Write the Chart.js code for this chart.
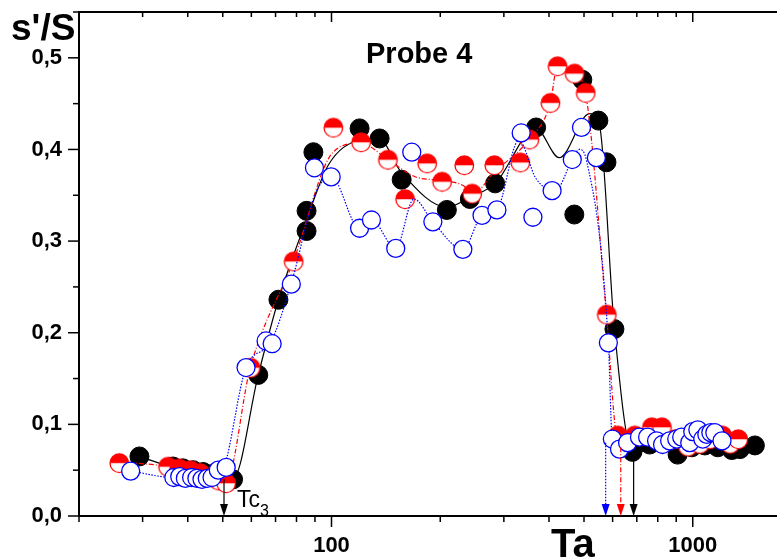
<!DOCTYPE html>
<html>
<head>
<meta charset="utf-8">
<script src="https://cdn.jsdelivr.net/npm/chart.js@4.4.1/dist/chart.umd.min.js"></script>
<style>
  html, body { margin: 0; padding: 0; background: #fff; overflow: hidden; width: 777px; height: 558px; }
  canvas { display: block; }
</style>
</head>
<body>
<canvas id="chart" width="812" height="558"></canvas>
<script>
// measured points (Ta, s'/S)
const blackX = [29.4, 36.4, 38.8, 41.4, 44.1, 47, 50.1, 53.4, 62.7, 71.3, 85.3, 85.3, 89.1, 119.6, 135.9, 156.4, 208.6, 241.5, 283.7, 368.5, 470, 494.7, 548, 577, 607, 681, 760, 836, 908, 994, 1080, 1173, 1283, 1351, 1486];
const blackY = [0.065, 0.054, 0.052, 0.050, 0.048, 0.046, 0.044, 0.040, 0.154, 0.236, 0.311, 0.333, 0.397, 0.423, 0.412, 0.367, 0.334, 0.346, 0.363, 0.424, 0.329, 0.476, 0.4315, 0.386, 0.204, 0.070, 0.078, 0.080, 0.067, 0.075, 0.077, 0.075, 0.072, 0.073, 0.077];

const redX = [25.8, 35.2, 37.8, 40.6, 43.2, 46.6, 48.6, 51, 59.6, 78.4, 101, 120.5, 143, 159.5, 183.6, 202, 232.6, 244.7, 281.8, 332.7, 352.5, 403, 421.7, 470, 504.5, 577, 619, 690, 769, 820, 891, 968, 1045, 1114, 1205, 1267, 1334];
const redY = [0.058, 0.054, 0.052, 0.050, 0.047, 0.043, 0.039, 0.036, 0.162, 0.278, 0.424, 0.408, 0.389, 0.346, 0.385, 0.365, 0.383, 0.352, 0.383, 0.386, 0.411, 0.451, 0.491, 0.483, 0.462, 0.220, 0.088, 0.088, 0.097, 0.097, 0.084, 0.076, 0.079, 0.084, 0.088, 0.079, 0.084];

const blueX = [27.8, 36.6, 38.0, 39.4, 41.0, 42.4, 43.8, 45.3, 46.7, 48.6, 51.1, 58, 65.9, 68.5, 77.4, 89.7, 99.8, 119.6, 129, 150.6, 166.8, 190.8, 231, 261, 287, 335, 361, 408, 464, 492, 541, 584, 599, 627, 660, 712, 750, 794, 825, 863, 903, 932, 981, 1000, 1033, 1066, 1094, 1122, 1151, 1205];
const blueY = [0.049, 0.042, 0.043, 0.041, 0.042, 0.041, 0.040, 0.041, 0.042, 0.050, 0.053, 0.162, 0.191, 0.188, 0.253, 0.380, 0.370, 0.314, 0.323, 0.292, 0.397, 0.321, 0.291, 0.328, 0.334, 0.418, 0.326, 0.355, 0.389, 0.424, 0.391, 0.189, 0.084, 0.073, 0.080, 0.086, 0.086, 0.082, 0.078, 0.082, 0.084, 0.086, 0.080, 0.092, 0.094, 0.084, 0.089, 0.091, 0.091, 0.082];

// smoothed guide curves
const blackFitX = [29.4, 35.2, 42.7, 53.4, 62.7, 71.3, 85.3, 98, 119, 135, 156, 209, 242, 284, 368, 427, 518, 552, 607, 681, 921, 1189, 1486];
const blackFitY = [0.065, 0.055, 0.049, 0.041, 0.154, 0.236, 0.323, 0.383, 0.41, 0.412, 0.375, 0.337, 0.348, 0.363, 0.423, 0.391, 0.439, 0.426, 0.204, 0.070, 0.075, 0.077, 0.077];
const redFitX = [25.8, 35.2, 42.7, 51, 59.6, 78.4, 101, 120.5, 143, 171, 202, 232.6, 244.7, 281.8, 352.5, 403, 421.7, 470, 504.5, 577, 619, 809, 1189, 1393];
const redFitY = [0.059, 0.054, 0.046, 0.037, 0.162, 0.278, 0.397, 0.407, 0.389, 0.370, 0.366, 0.360, 0.351, 0.375, 0.411, 0.450, 0.490, 0.483, 0.462, 0.2196, 0.087, 0.088, 0.084, 0.078];
const blueFitX = [27.8, 36.6, 47, 50.4, 58, 67.7, 77.4, 90.3, 99.8, 119.6, 129, 150.6, 169, 190.8, 231, 261, 287, 330, 368.5, 416, 464, 485, 508, 584, 599, 809, 1205];
const blueFitY = [0.049, 0.042, 0.042, 0.053, 0.162, 0.189, 0.254, 0.352, 0.370, 0.314, 0.323, 0.292, 0.346, 0.321, 0.291, 0.328, 0.334, 0.410, 0.368, 0.355, 0.389, 0.400, 0.388, 0.189, 0.084, 0.084, 0.084];

// transition markers: Tc3, then blue / red / black ends
const arrowX = [50.4, 574, 632, 686];
const arrowTop = [0.040, 0.080, 0.075, 0.063];

// axes
const xTicks = [20, 30, 40, 50, 60, 70, 80, 90, 100, 200, 300, 400, 500, 600, 700, 800, 900, 1000, 2000];
const xLabels = [100, 1000];
const yTicks = [0, 0.05, 0.1, 0.15, 0.2, 0.25, 0.3, 0.35, 0.4, 0.45, 0.5, 0.55];
const yLabels = [0, 0.1, 0.2, 0.3, 0.4, 0.5];

const pts = (xs, ys) => xs.map((x, i) => ({ x: x, y: ys[i] }));
const isMajorY = v => yLabels.some(l => Math.abs(l - v) < 1e-9);

function halfDot(r) {
  const c = document.createElement('canvas');
  const s = 2 * r + 4;
  c.width = s; c.height = s;
  const g = c.getContext('2d');
  const m = s / 2;
  g.fillStyle = '#fff';
  g.beginPath(); g.arc(m, m, r, 0, Math.PI * 2); g.fill();
  g.fillStyle = '#ff0000';
  g.beginPath(); g.arc(m, m, r, Math.PI, 0); g.closePath(); g.fill();
  g.strokeStyle = '#ff0000'; g.lineWidth = 1.3;
  g.beginPath(); g.arc(m, m, r, 0, Math.PI * 2); g.stroke();
  return c;
}

const fontFam = "'Liberation Sans', Arial, sans-serif";
Chart.defaults.font.family = fontFam;

const frame = {
  id: 'frame',
  afterDraw(chart) {
    const { ctx, chartArea: a, scales: { x, y } } = chart;
    const line = (x1, y1, x2, y2) => { ctx.beginPath(); ctx.moveTo(x1, y1); ctx.lineTo(x2, y2); ctx.stroke(); };
    ctx.save();
    ctx.strokeStyle = '#000';
    ctx.lineWidth = 2;
    ctx.strokeRect(a.left, a.top, a.right - a.left, a.bottom - a.top);

    ctx.lineWidth = 1.5;
    xTicks.forEach(v => {
      const px = x.getPixelForValue(v);
      const major = xLabels.includes(v);
      line(px, a.bottom, px, a.bottom + (major ? 11 : 6));
      line(px, a.top, px, a.top + (major ? 10 : 5));
    });
    yTicks.forEach(v => {
      const py = y.getPixelForValue(v);
      const major = isMajorY(v);
      line(a.left - (major ? 11 : 6), py, a.left, py);
      line(a.right - (major ? 10 : 5), py, a.right, py);
    });

    // arrows
    const arrowCol = ['#000', '#0000ff', '#ff0000', '#000'];
    const arrowDash = [[], [1.5, 1.5], [5, 2, 1, 2], []];
    arrowX.forEach((v, i) => {
      const px = x.getPixelForValue(v);
      const top = y.getPixelForValue(arrowTop[i]);
      ctx.strokeStyle = arrowCol[i];
      ctx.fillStyle = arrowCol[i];
      ctx.lineWidth = 1.2;
      ctx.setLineDash(arrowDash[i]);
      line(px, top, px, a.bottom - 10);
      ctx.setLineDash([]);
      ctx.beginPath();
      ctx.moveTo(px - 4, a.bottom - 12);
      ctx.lineTo(px + 4, a.bottom - 12);
      ctx.lineTo(px, a.bottom);
      ctx.closePath();
      ctx.fill();
    });

    ctx.fillStyle = '#000';
    ctx.textBaseline = 'alphabetic';
    ctx.textAlign = 'left';
    ctx.font = '23px ' + fontFam;
    const tcX = x.getPixelForValue(arrowX[0]) + 13;
    ctx.fillText('Tc', tcX, 507);
    const tcW = ctx.measureText('Tc').width;
    ctx.font = '16px ' + fontFam;
    ctx.fillText('3', tcX + tcW, 516);

    ctx.font = 'bold 37px ' + fontFam;
    ctx.fillText("s'/S", 11, 40);
    ctx.font = 'bold 29px ' + fontFam;
    ctx.fillText('Probe 4', 366, 63);
    ctx.font = 'bold 40px ' + fontFam;
    ctx.fillText('Ta', 551, 557);
    ctx.restore();
  }
};

const fit = (xs, ys, color, dash, order) => ({
  data: pts(xs, ys), showLine: true, borderColor: color, borderWidth: 1.2,
  borderDash: dash, pointRadius: 0, cubicInterpolationMode: 'monotone', order: order
});

new Chart(document.getElementById('chart'), {
  type: 'scatter',
  data: {
    datasets: [
      fit(blackFitX, blackFitY, '#000', [], 6),
      { data: pts(blackX, blackY), pointRadius: 9.5, pointBackgroundColor: '#000', pointBorderColor: '#000', pointBorderWidth: 1, order: 5 },
      fit(redFitX, redFitY, '#ff0000', [5, 2, 1, 2], 4),
      { data: pts(redX, redY), pointStyle: halfDot(9.3), order: 3 },
      fit(blueFitX, blueFitY, '#0000ff', [1.5, 1.5], 2),
      { data: pts(blueX, blueY), pointRadius: 9, pointBackgroundColor: '#fff', pointBorderColor: '#0000ff', pointBorderWidth: 1.3, order: 1 }
    ]
  },
  options: {
    responsive: false,
    animation: false,
    events: [],
    layout: { padding: { top: 12, right: 1, left: 0, bottom: 0 } },
    plugins: { legend: { display: false }, tooltip: { enabled: false } },
    scales: {
      x: {
        type: 'logarithmic', min: 20, max: 2000,
        grid: { display: false, drawTicks: true, tickLength: 0 },
        border: { display: false },
        afterBuildTicks: s => { s.ticks = xTicks.map(v => ({ value: v })); },
        afterFit: s => { s.height = 42; s.paddingLeft = 0; s.paddingRight = 0; },
        ticks: {
          autoSkip: false, maxRotation: 0, padding: 17, color: '#000',
          font: { size: 22, weight: 'bold' },
          callback: v => xLabels.includes(v) ? String(v) : ''
        }
      },
      y: {
        min: 0, max: 0.55,
        grid: { display: false, drawTicks: true, tickLength: 0 },
        border: { display: false },
        afterBuildTicks: s => { s.ticks = yTicks.map(v => ({ value: v })); },
        afterFit: s => { s.width = 79; s.paddingTop = 0; s.paddingBottom = 0; },
        ticks: {
          autoSkip: false, padding: 17, color: '#000',
          font: { size: 22, weight: 'bold' },
          callback: v => isMajorY(v) ? v.toFixed(1).replace('.', ',') : ''
        }
      }
    }
  },
  plugins: [frame]
});
</script>
</body>
</html>
